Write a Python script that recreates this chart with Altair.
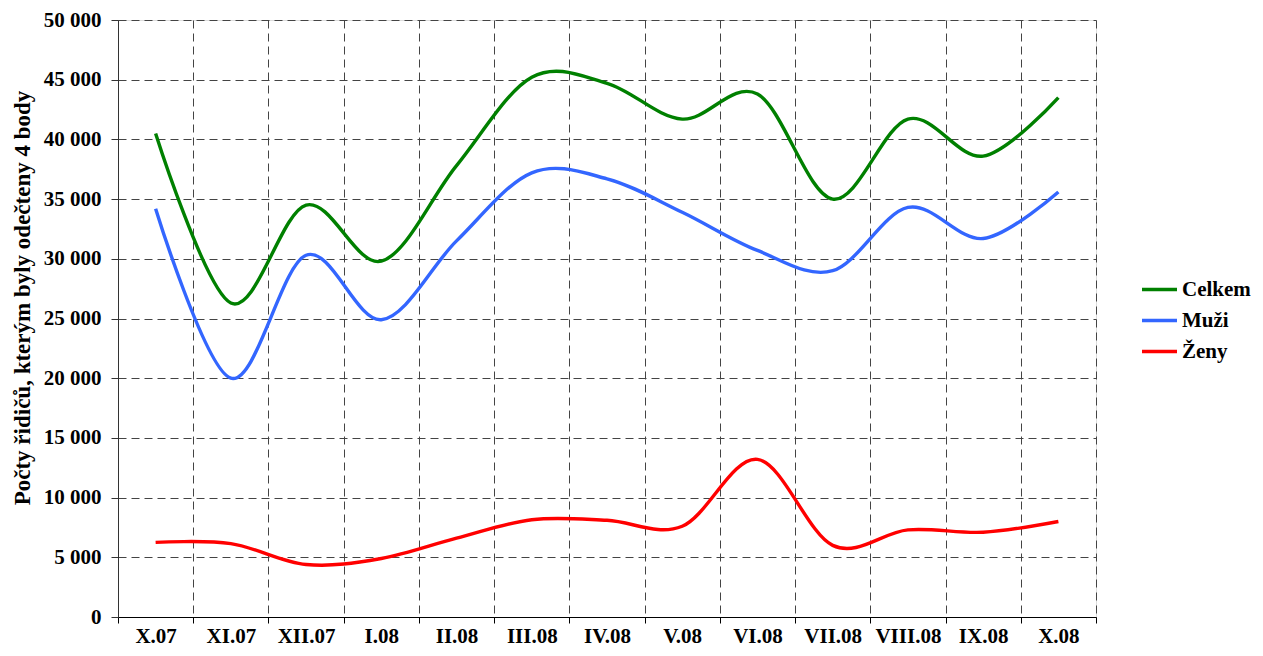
import json
import altair as alt
import pandas as pd

months = ["X.07", "XI.07", "XII.07", "I.08", "II.08", "III.08", "IV.08",
          "V.08", "VI.08", "VII.08", "VIII.08", "IX.08", "X.08"]
series_names = ["Celkem", "Muži", "Ženy"]
celkem = [40500, 26300, 34500, 29800, 37800, 45200, 44700, 41700, 43800, 35000, 41700, 38600, 43500]
muzi = [34200, 20000, 30300, 24900, 31500, 37200, 36700, 33900, 30700, 29000, 34300, 31700, 35600]
zeny = [6250, 6150, 4400, 4900, 6600, 8150, 8100, 7600, 13200, 6000, 7300, 7100, 8000]
colors = ["#008000", "#3366FF", "#FF0000"]
y_ticks = list(range(0, 50001, 5000))

rows = []
for name, vals in zip(series_names, [celkem, muzi, zeny]):
    for i, v in enumerate(vals):
        rows.append({"serie": name, "i": i, "v": v})
df = pd.DataFrame(rows)

FONT = "Liberation Serif"
W, H = 978, 597
band = W / len(months)
x_vals = [k - 0.5 for k in range(len(months) + 1)]

label_expr = json.dumps(months) + "[round(datum.value - 0.5)] || ''"

chart = alt.Chart(df).mark_line(
    interpolate="cardinal", tension=0, strokeWidth=3.4
).encode(
    x=alt.X("i:Q",
            scale=alt.Scale(domain=[-0.5, len(months) - 0.5], nice=False, zero=False),
            axis=alt.Axis(values=x_vals, labelExpr=label_expr, labelOffset=-band / 2,
                          labelOverlap=False, labelFlush=False, labelBound=False,
                          tickSize=6, labelPadding=2, title=None,
                          labelFont=FONT, labelFontSize=21, labelFontWeight="bold",
                          labelColor="#000000",
                          grid=True, gridDash=[8, 5], gridColor="#444444", gridWidth=1,
                          domainColor="#000000", tickColor="#000000")),
    y=alt.Y("v:Q",
            scale=alt.Scale(domain=[0, 50000], nice=False),
            axis=alt.Axis(values=y_ticks,
                          labelExpr="replace(format(datum.value, ','), ',', ' ')",
                          tickSize=7, labelPadding=10,
                          labelFont=FONT, labelFontSize=21, labelFontWeight="bold",
                          labelColor="#000000",
                          grid=True, gridDash=[8, 5], gridColor="#444444", gridWidth=1,
                          domainColor="#333333", tickColor="#333333",
                          title="Počty řidičů, kterým byly odečteny 4 body",
                          titleFont=FONT, titleFontSize=23, titleFontWeight="bold",
                          titleColor="#000000", titleX=-84, titleY=277.5,
                          titleBaseline="bottom", titleAngle=270)),
    color=alt.Color("serie:N",
                    scale=alt.Scale(domain=series_names, range=colors),
                    sort=series_names,
                    legend=alt.Legend(title=None, orient="none", legendX=1022, legendY=250,
                                      symbolType="stroke", symbolSize=1225,
                                      symbolStrokeWidth=3.4, rowPadding=1,
                                      labelFont=FONT, labelFontSize=21,
                                      labelFontWeight="bold", labelColor="#000000",
                                      labelOffset=3, labelLimit=200)),
).properties(
    width=W, height=H,
    padding={"left": 110, "top": 12, "right": 158, "bottom": 31},
    autosize=alt.AutoSizeParams(type="none"),
).configure_view(stroke=None).configure(background="#ffffff")

chart.save("out.html", embed_options={"renderer": "svg", "actions": False})
